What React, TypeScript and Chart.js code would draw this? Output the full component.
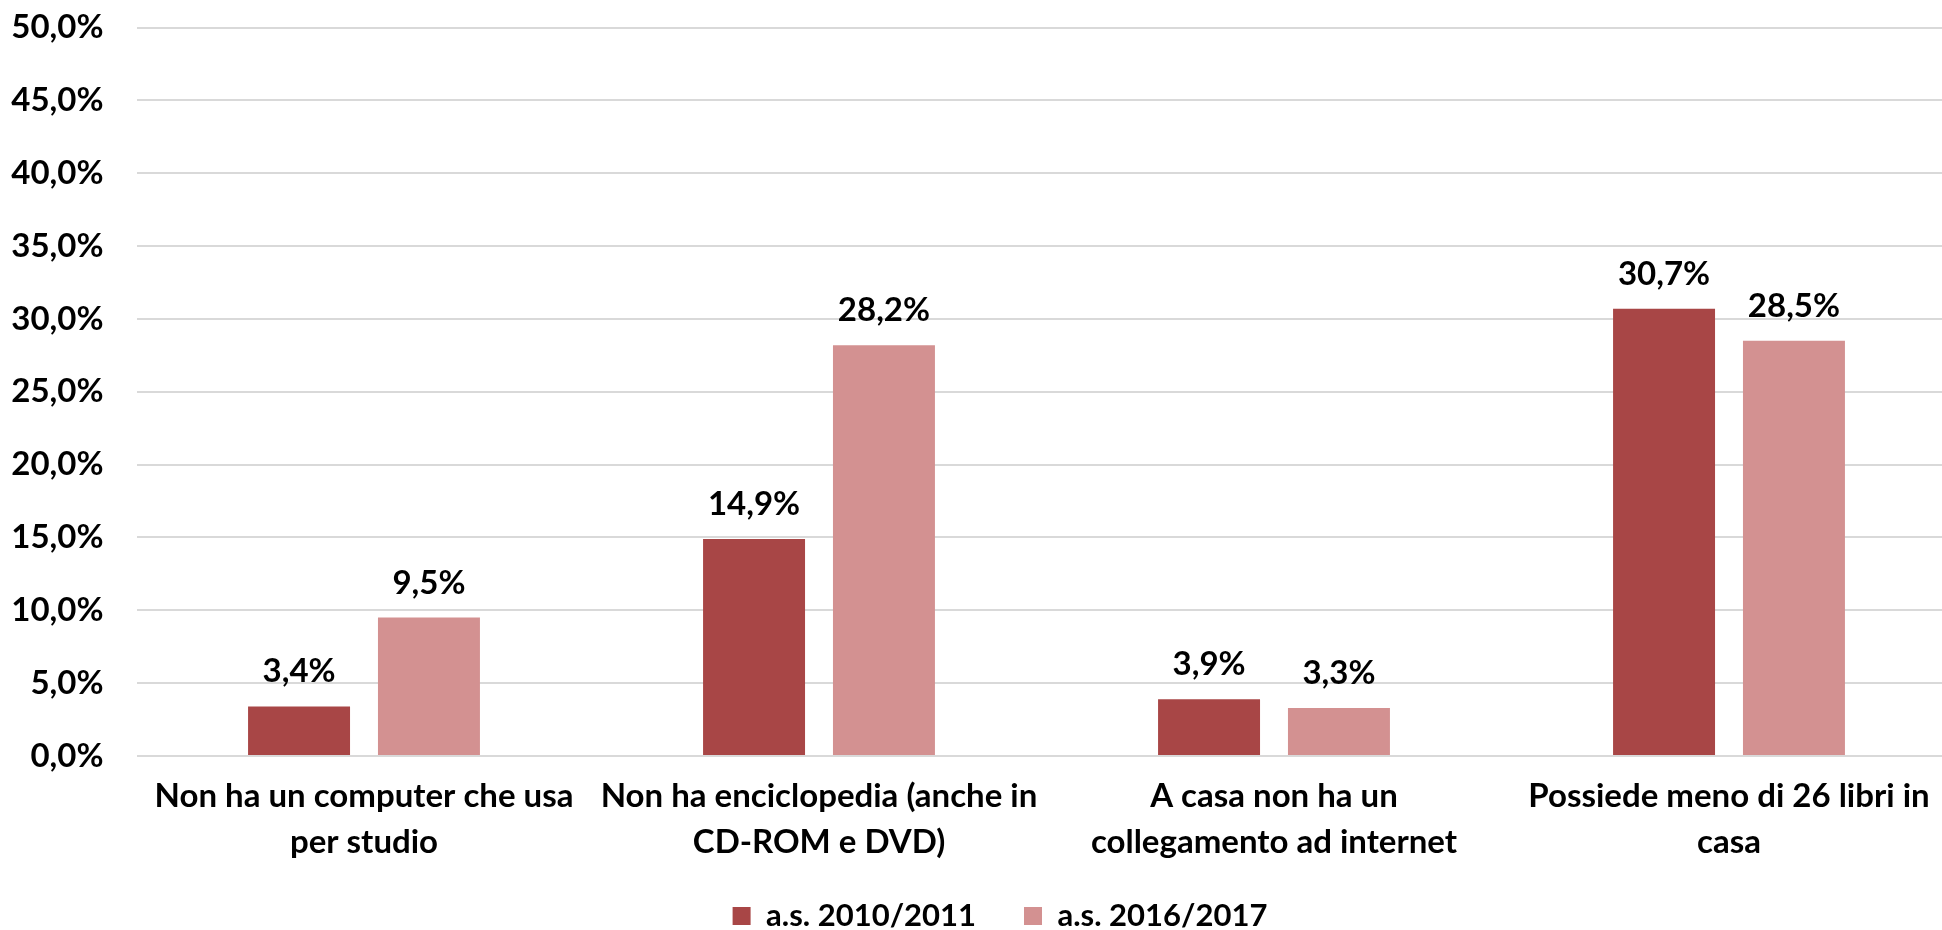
import React, { useEffect, useRef } from "react";
import { Chart, registerables } from "chart.js";

Chart.register(...registerables);

const categories: string[][] = [
  ["Non ha un computer che usa", "per studio"],
  ["Non ha enciclopedia (anche in", "CD-ROM e DVD)"],
  ["A casa non ha un", "collegamento ad internet"],
  ["Possiede meno di 26 libri in", "casa"],
];
const seriesNames = ["a.s. 2010/2011", "a.s. 2016/2017"];
const series2010 = [3.4, 14.9, 3.9, 30.7];
const series2016 = [9.5, 28.2, 3.3, 28.5];
const yMin = 0;
const yMax = 50;
const yStep = 5;

const FONT = "Lato, 'Open Sans', sans-serif";
const fmt = (v: number) => v.toFixed(1).replace(".", ",") + "%";

const valueLabels = {
  id: "valueLabels",
  afterDatasetsDraw(chart: any) {
    const ctx = chart.ctx;
    ctx.save();
    ctx.font = `bold 33px ${FONT}`;
    ctx.fillStyle = "#000000";
    ctx.textAlign = "center";
    ctx.textBaseline = "alphabetic";
    chart.data.datasets.forEach((ds: any, di: number) => {
      const meta = chart.getDatasetMeta(di);
      meta.data.forEach((el: any, i: number) => {
        ctx.fillText(fmt(ds.data[i]), el.x, el.y - 24);
      });
    });
    ctx.restore();
  },
};

const LEGEND_FONT = 31;
const LEGEND_PAD = 48;

const legendMover = {
  id: "legendMover",
  afterLayout(chart: any) {
    const lg = chart.legend;
    if (!lg) return;
    const dx = 1000 - (lg.left + lg.right) / 2;
    const dy = 916 - LEGEND_FONT / 2 - LEGEND_PAD - lg.top;
    lg.left += dx;
    lg.right += dx;
    lg.top += dy;
    lg.bottom += dy;
  },
};

export default function App() {
  const ref = useRef<HTMLCanvasElement | null>(null);
  useEffect(() => {
    if (!ref.current) return;
    const chart = new Chart(ref.current, {
      type: "bar",
      data: {
        labels: categories,
        datasets: [
          {
            label: seriesNames[0],
            data: series2010,
            backgroundColor: "rgb(168,70,70)",
            categoryPercentage: 0.571,
            barPercentage: 0.785,
          },
          {
            label: seriesNames[1],
            data: series2016,
            backgroundColor: "rgb(211,145,145)",
            categoryPercentage: 0.571,
            barPercentage: 0.785,
          },
        ],
      },
      options: {
        responsive: false,
        animation: false,
        layout: { padding: { top: 27.5, left: 0, right: 43.5, bottom: 0 } },
        plugins: {
          tooltip: { enabled: false },
          legend: {
            position: "bottom",
            labels: {
              boxWidth: 18,
              boxHeight: 18,
              padding: LEGEND_PAD,
              color: "#000000",
              font: { family: FONT, size: LEGEND_FONT, weight: "bold" },
            },
          },
        },
        scales: {
          x: {
            grid: { display: false, drawTicks: false },
            border: { display: false },
            ticks: {
              color: "#000000",
              padding: 17,
              maxRotation: 0,
              autoSkip: false,
              font: { family: FONT, size: 33, weight: "bold", lineHeight: 1.4 },
            },
            afterFit: (s: any) => {
              s.height = 115;
              s.paddingLeft = 0;
              s.paddingRight = 0;
            },
          },
          y: {
            min: yMin,
            max: yMax,
            grid: { color: "#D9D9D9", lineWidth: 2, drawTicks: false },
            border: { display: false },
            ticks: {
              stepSize: yStep,
              color: "#000000",
              padding: 33,
              font: { family: FONT, size: 33, weight: "bold" },
              callback: (v: any) => fmt(Number(v)),
            },
            afterFit: (s: any) => {
              s.width = 136.5;
              s.paddingTop = 0;
              s.paddingBottom = 0;
            },
          },
        },
      },
      plugins: [valueLabels, legendMover],
    });
    return () => chart.destroy();
  }, []);
  return (
    <div
      style={{
        position: "fixed",
        left: 0,
        top: 0,
        width: 1942,
        height: 930,
        overflow: "hidden",
        background: "#ffffff",
      }}
    >
      <canvas ref={ref} width={2000} height={960} style={{ display: "block", width: 2000, height: 960 }} />
    </div>
  );
}
